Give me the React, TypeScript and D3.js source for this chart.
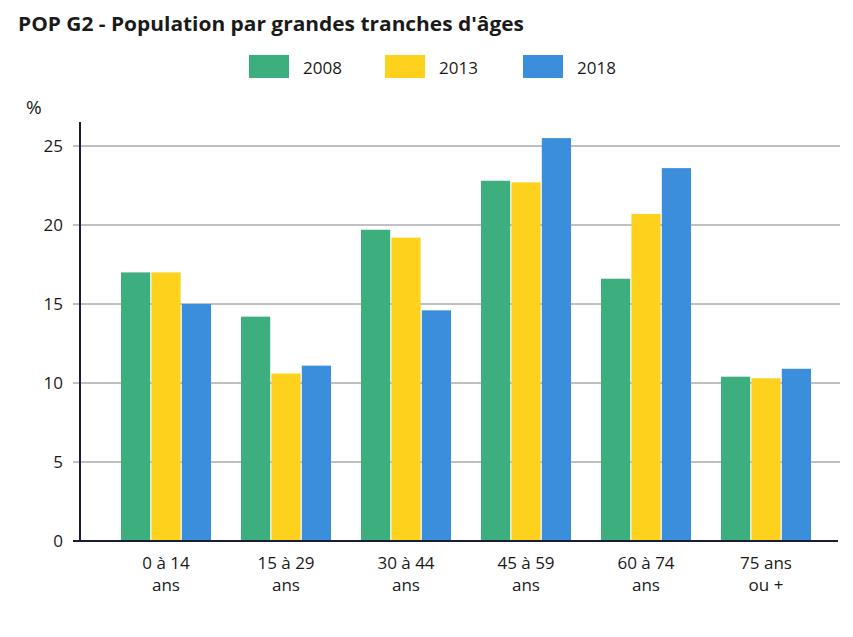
import { useEffect, useRef } from "react";
import * as d3 from "d3";

const categories = ["0 à 14|ans", "15 à 29|ans", "30 à 44|ans", "45 à 59|ans", "60 à 74|ans", "75 ans|ou +"];
const years = ["2008", "2013", "2018"];
const values2008 = [17.0, 14.2, 19.7, 22.8, 16.6, 10.4];
const values2013 = [17.0, 10.6, 19.2, 22.7, 20.7, 10.3];
const values2018 = [15.0, 11.1, 14.6, 25.5, 23.6, 10.9];
const yTicks = [0, 5, 10, 15, 20, 25];
const colors = ["#3daf7f", "#fdd11c", "#3a8edb"];

const width = 853;
const height = 637;
const font = "'Open Sans', 'DejaVu Sans', sans-serif";

function App() {
  const svgRef = useRef<SVGSVGElement>(null);

  useEffect(() => {
    if (!svgRef.current) return;
    const svg = d3.select(svgRef.current);
    svg.selectAll("*").remove();

    const series = [values2008, values2013, values2018];
    const rows = categories.map((c, i) => ({ cat: c, vals: series.map((s) => s[i]) }));

    const x0 = d3.scaleBand().domain(categories).range([106, 826]).paddingInner(0.25).paddingOuter(0.125);
    const x1 = d3.scaleBand().domain(years).range([0, x0.bandwidth()]).paddingInner(0.04);
    const y = d3.scaleLinear().domain([0, 25]).range([541, 146]);

    svg.append("rect").attr("width", width).attr("height", height).attr("fill", "#fff");

    // title
    svg
      .append("text")
      .attr("x", 18)
      .attr("y", 31)
      .attr("font-family", font)
      .attr("font-weight", 700)
      .attr("font-size", 19)
      .attr("textLength", 506)
      .attr("lengthAdjust", "spacingAndGlyphs")
      .attr("fill", "#1a1a1a")
      .text("POP G2 - Population par grandes tranches d'âges");

    // legend
    const legendX = [249, 385, 523];
    years.forEach((yr, i) => {
      svg.append("rect").attr("x", legendX[i]).attr("y", 55).attr("width", 40).attr("height", 23).attr("fill", colors[i]);
      svg
        .append("text")
        .attr("x", legendX[i] + 54)
        .attr("y", 74)
        .attr("font-family", font)
        .attr("font-size", 17)
        .attr("fill", "#1a1a1a")
        .text(yr);
    });

    svg
      .append("text")
      .attr("x", 26)
      .attr("y", 114)
      .attr("font-family", font)
      .attr("font-size", 19)
      .attr("fill", "#1a1a1a")
      .text("%");

    // grid
    svg
      .append("g")
      .selectAll("line")
      .data(yTicks.filter((t) => t > 0))
      .enter()
      .append("line")
      .attr("x1", 73)
      .attr("x2", 840)
      .attr("y1", (d) => y(d))
      .attr("y2", (d) => y(d))
      .attr("stroke", "#80808e")
      .attr("stroke-width", 1);

    svg
      .append("g")
      .selectAll("text")
      .data(yTicks)
      .enter()
      .append("text")
      .attr("x", 63)
      .attr("y", (d) => y(d) + 6)
      .attr("text-anchor", "end")
      .attr("font-family", font)
      .attr("font-size", 17)
      .attr("fill", "#1a1a1a")
      .text((d) => d);

    // bars
    const groups = svg
      .append("g")
      .selectAll("g")
      .data(rows)
      .enter()
      .append("g")
      .attr("transform", (d) => `translate(${x0(d.cat)},0)`);

    groups
      .selectAll("rect")
      .data((d) => d.vals.map((v, i) => ({ year: years[i], v, i })))
      .enter()
      .append("rect")
      .attr("x", (d) => x1(d.year) || 0)
      .attr("y", (d) => y(d.v))
      .attr("width", x1.bandwidth())
      .attr("height", (d) => y(0) - y(d.v))
      .attr("fill", (d) => colors[d.i]);

    // axes
    svg.append("line").attr("x1", 80).attr("x2", 80).attr("y1", 122).attr("y2", 542).attr("stroke", "#1b1b3a").attr("stroke-width", 2);
    svg.append("line").attr("x1", 73).attr("x2", 838).attr("y1", 541).attr("y2", 541).attr("stroke", "#1b1b3a").attr("stroke-width", 2);

    // x labels
    const lab = svg
      .append("g")
      .selectAll("text")
      .data(categories)
      .enter()
      .append("text")
      .attr("x", (d) => (x0(d) || 0) + x0.bandwidth() / 2)
      .attr("y", 569)
      .attr("text-anchor", "middle")
      .attr("font-family", font)
      .attr("font-size", 17)
      .attr("fill", "#1a1a1a");
    lab.append("tspan").text((d) => d.split("|")[0]);
    lab
      .append("tspan")
      .attr("x", (d) => (x0(d) || 0) + x0.bandwidth() / 2)
      .attr("dy", 22)
      .text((d) => d.split("|")[1]);
  }, []);

  return (
    <div style={{ position: "absolute", left: 0, top: 0 }}>
      <svg ref={svgRef} width={width} height={height} style={{ display: "block" }}></svg>
    </div>
  );
}

export default App;
